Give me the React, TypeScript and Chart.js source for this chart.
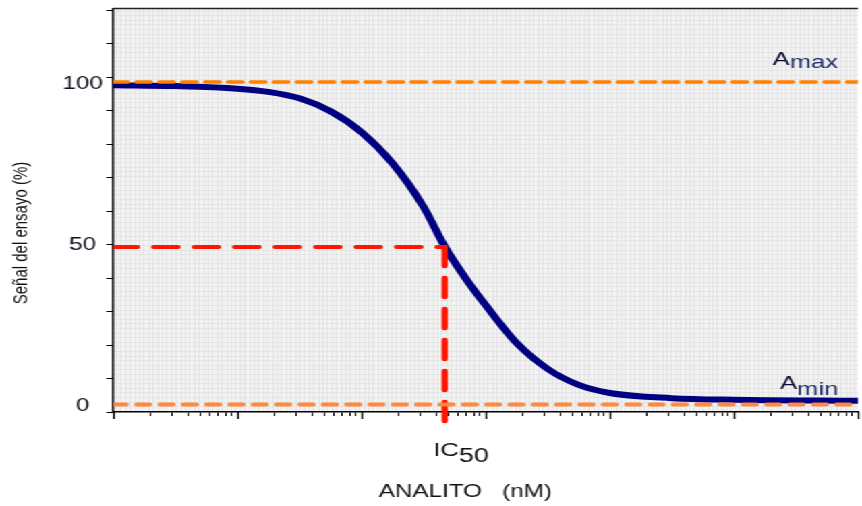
import React, { useEffect, useRef } from 'react';
import { Chart, registerables } from 'chart.js';

Chart.register(...registerables);

// ---- data ----
const concentrationNM = [1, 3.16, 10, 17.8, 31.6, 56.2, 100, 178, 316, 468, 708, 1000, 1780, 3160, 5620, 10000, 31600, 100000, 1000000];
const signalPct = [99.6, 99.3, 98.5, 97.5, 95.5, 91.5, 85.0, 75.3, 61.8, 49.5, 39.0, 31.3, 19.5, 11.5, 6.5, 4.0, 2.4, 1.9, 1.6];

const AMAX = 100.6;
const AMIN = 0.4;
const IC50 = 468;
const HALF_SIGNAL = 49.3;
const IC50_LINE_END = -6.5;

const X_MIN = 1;
const X_MAX = 1000000;
const Y_MIN = -1.9;
const Y_MAX = 123.4;

const yLabelTicks = [0, 50, 100];
const yMarkTicks = [-1.9, 8.5, 18.9, 29.3, 39.7, 50.1, 60.5, 70.9, 81.3, 91.7, 102.1, 112.5, 122.9];
const xDecades = [1, 10, 100, 1000, 10000, 100000, 1000000];
const xMinorMultipliers = [2, 3, 4, 5, 6, 7, 8, 9];

const xAxisTitle = 'ANALITO   (nM)';
const yAxisTitle = 'Señal del ensayo (%)';

// ---- layout ----
const CANVAS_W = 639;
const CANVAS_H = 506;
const STRETCH = 862 / CANVAS_W;
const FONT = '"Liberation Sans", Arial, Helvetica, sans-serif';

const xTickValues: number[] = [];
xDecades.forEach((d, i) => {
  xTickValues.push(d);
  if (i < xDecades.length - 1) xMinorMultipliers.forEach((m) => xTickValues.push(d * m));
});

const decorPlugin = {
  id: 'decor',
  beforeDraw(chart: any) {
    const { ctx, chartArea: a } = chart;
    ctx.save();
    ctx.fillStyle = '#f3f3f3';
    ctx.fillRect(a.left, a.top, a.right - a.left, a.bottom - a.top);
    ctx.strokeStyle = '#e5e5e5';
    ctx.lineWidth = 1;
    ctx.beginPath();
    for (let x = a.left + 2; x < a.right; x += 3.4) {
      const px = Math.round(x) + 0.5;
      ctx.moveTo(px, a.top);
      ctx.lineTo(px, a.bottom);
    }
    for (let y = a.top + 2; y < a.bottom; y += 4.6) {
      const py = Math.round(y) + 0.5;
      ctx.moveTo(a.left, py);
      ctx.lineTo(a.right, py);
    }
    ctx.stroke();
    ctx.restore();
  },
  afterDraw(chart: any) {
    const { ctx, chartArea: a, scales } = chart;
    const xs = scales.x;
    const ys = scales.y;
    ctx.save();
    // top border
    ctx.strokeStyle = '#222';
    ctx.lineWidth = 1.5;
    ctx.beginPath();
    ctx.moveTo(a.left, a.top);
    ctx.lineTo(a.right, a.top);
    ctx.stroke();

    ctx.textAlign = 'left';
    ctx.textBaseline = 'alphabetic';

    // Amax
    const yMaxPix = ys.getPixelForValue(AMAX);
    let tx = a.right - 63.2;
    ctx.font = `19px ${FONT}`;
    ctx.fillStyle = '#0d0d33';
    ctx.fillText('A', tx, yMaxPix - 17);
    let wA = ctx.measureText('A').width;
    ctx.fillStyle = '#1d2b6b';
    ctx.fillText('max', tx + wA, yMaxPix - 13.7);

    // Amin
    const yMinPix = ys.getPixelForValue(AMIN);
    tx = a.right - 57.8;
    ctx.fillStyle = '#0d0d33';
    ctx.fillText('A', tx, yMinPix - 15.3);
    wA = ctx.measureText('A').width;
    ctx.fillStyle = '#1d2b6b';
    ctx.fillText('min', tx + wA, yMinPix - 9.6);

    // IC50
    const xi = xs.getPixelForValue(IC50);
    ctx.fillStyle = '#111';
    ctx.font = `19px ${FONT}`;
    ctx.fillText('IC', xi - 8.5, a.bottom + 43.5);
    const wIC = ctx.measureText('IC').width;
    ctx.font = `20px ${FONT}`;
    ctx.fillText('50', xi - 8.5 + wIC, a.bottom + 49.7);

    // x title
    ctx.font = `18px ${FONT}`;
    ctx.textAlign = 'center';
    ctx.fillText(xAxisTitle, a.left + 261, a.bottom + 85);

    // y title
    ctx.translate(16.3, 233);
    ctx.rotate(-Math.PI / 2);
    ctx.font = `15px ${FONT}`;
    ctx.textBaseline = 'middle';
    ctx.fillText(yAxisTitle, 0, 0);
    ctx.restore();
  },
};

export default function App() {
  const ref = useRef<HTMLCanvasElement>(null);

  useEffect(() => {
    if (!ref.current) return;
    const chart = new Chart(ref.current, {
      type: 'line',
      data: {
        datasets: [
          {
            label: 'Amax',
            data: [{ x: X_MIN, y: AMAX }, { x: X_MAX, y: AMAX }],
            borderColor: '#ff8000',
            borderWidth: 3.5,
            borderDash: [10.8, 6.2],
            borderCapStyle: 'round',
            pointRadius: 0,
            order: 1,
          },
          {
            label: 'Amin',
            data: [{ x: X_MIN, y: AMIN }, { x: X_MAX, y: AMIN }],
            borderColor: '#ff8a3d',
            borderWidth: 4,
            borderDash: [9.6, 7.7],
            borderCapStyle: 'round',
            pointRadius: 0,
            order: 2,
          },
          {
            label: 'IC50 h',
            data: [{ x: X_MIN, y: HALF_SIGNAL }, { x: IC50, y: HALF_SIGNAL }],
            borderColor: '#ff1500',
            borderWidth: 4,
            borderDash: [18, 12],
            borderCapStyle: 'round',
            pointRadius: 0,
            order: 3,
          },
          {
            label: 'IC50 v',
            data: [{ x: IC50, y: HALF_SIGNAL }, { x: IC50, y: IC50_LINE_END }],
            borderColor: '#ff1500',
            borderWidth: 4.5,
            borderDash: [19, 12],
            borderCapStyle: 'round',
            pointRadius: 0,
            clip: false,
            order: 4,
          },
          {
            label: 'Curva',
            data: concentrationNM.map((c, i) => ({ x: c, y: signalPct[i] })),
            borderColor: '#000080',
            borderWidth: 6,
            cubicInterpolationMode: 'monotone',
            pointRadius: 0,
            order: 10,
          },
        ],
      } as any,
      options: {
        responsive: true,
        maintainAspectRatio: false,
        animation: false,
        events: [],
        layout: { padding: { top: 8.5, right: 0, bottom: 0, left: 0 } },
        plugins: { legend: { display: false }, tooltip: { enabled: false } },
        scales: {
          x: {
            type: 'logarithmic',
            position: 'bottom',
            min: X_MIN,
            max: X_MAX,
            afterBuildTicks: (s: any) => {
              s.ticks = xTickValues.map((v) => ({ value: v, major: xDecades.includes(v) }));
            },
            afterFit: (s: any) => {
              s.height = 94;
            },
            ticks: { callback: () => '', autoSkip: false, maxRotation: 0, padding: 0, font: { size: 1 } },
            grid: { drawOnChartArea: false, drawTicks: true, tickLength: 4, tickColor: '#000', tickWidth: 1 },
            border: { display: true, color: '#000', width: 1.5 },
          },
          xMajor: {
            type: 'logarithmic',
            axis: 'x',
            position: { y: Y_MIN },
            min: X_MIN,
            max: X_MAX,
            afterBuildTicks: (s: any) => {
              s.ticks = xDecades.map((v) => ({ value: v, major: true }));
            },
            ticks: { callback: () => '', autoSkip: false, maxRotation: 0, padding: 0, font: { size: 1 } },
            grid: { drawOnChartArea: false, drawTicks: true, tickLength: 7, tickColor: '#000', tickWidth: 1.3 },
            border: { display: false },
          },
          y: {
            type: 'linear',
            position: 'left',
            min: Y_MIN,
            max: Y_MAX,
            afterBuildTicks: (s: any) => {
              const vals = [...yMarkTicks, ...yLabelTicks].sort((p, q) => p - q);
              s.ticks = vals.map((v) => ({ value: v }));
            },
            afterFit: (s: any) => {
              s.width = 84;
            },
            ticks: {
              autoSkip: false,
              crossAlign: 'center',
              padding: 2.6,
              color: '#111122',
              font: (c: any) => ({ family: FONT, size: yLabelTicks.includes(c.tick?.value) ? 18 : 1 }),
              callback: (v: any) => (yLabelTicks.includes(Number(v)) ? String(v) : ''),
            },
            grid: {
              drawOnChartArea: false,
              drawTicks: true,
              tickLength: 5.2,
              tickWidth: 1,
              tickColor: (c: any) => (yLabelTicks.includes(c.tick?.value) ? 'rgba(0,0,0,0)' : '#000'),
            },
            border: { display: true, color: '#000', width: 1.5 },
          },
        },
      } as any,
      plugins: [decorPlugin],
    });
    return () => chart.destroy();
  }, []);

  return (
    <div
      style={{
        position: 'absolute',
        left: 0,
        top: 0,
        width: CANVAS_W,
        height: CANVAS_H,
        transform: `scaleX(${STRETCH})`,
        transformOrigin: '0 0',
        background: '#fff',
      }}
    >
      <canvas ref={ref} />
    </div>
  );
}
